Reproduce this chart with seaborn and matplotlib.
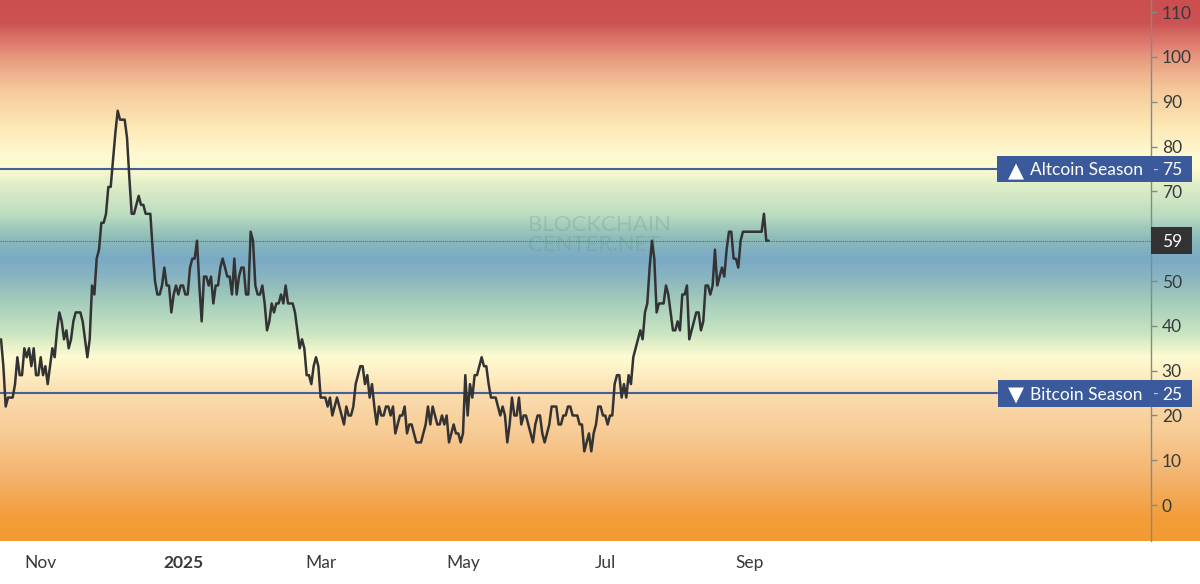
import pandas as pd
import numpy as np
import matplotlib
matplotlib.use('Agg')
import matplotlib.pyplot as plt
import seaborn as sns
from matplotlib.colors import LinearSegmentedColormap
from matplotlib.patches import Rectangle
from matplotlib.transforms import blended_transform_factory

# Daily index values
first_day = '2024-10-15'
index_values = [
    37, 31, 22, 24, 24, 24, 27, 33, 29, 29,
    35, 33, 35, 31, 35, 29, 29, 33, 29, 31,
    27, 31, 35, 33, 39, 43, 41, 37, 39, 35,
    37, 41, 43, 43, 43, 41, 37, 33, 37, 49,
    47, 55, 57, 63, 63, 65, 71, 71, 77, 83,
    88, 86, 86, 86, 82, 73, 65, 65, 67, 69,
    67, 67, 65, 65, 65, 57, 50, 47, 47, 49,
    53, 49, 49, 43, 47, 49, 47, 49, 49, 47,
    47, 53, 55, 55, 59, 49, 41, 51, 51, 49,
    51, 45, 49, 49, 53, 55, 53, 51, 51, 47,
    55, 47, 51, 53, 53, 47, 47, 61, 59, 49,
    47, 47, 49, 45, 39, 41, 45, 43, 45, 45,
    47, 45, 49, 45, 45, 45, 43, 39, 35, 37,
    35, 29, 29, 27, 31, 33, 31, 24, 24, 24,
    22, 24, 20, 22, 24, 22, 20, 18, 22, 20,
    20, 22, 27, 29, 31, 31, 27, 29, 24, 27,
    22, 18, 22, 20, 20, 22, 22, 20, 22, 16,
    18, 20, 20, 22, 16, 18, 18, 16, 14, 14,
    14, 16, 18, 22, 18, 22, 20, 18, 18, 20,
    18, 20, 14, 16, 18, 16, 16, 14, 16, 29,
    20, 27, 24, 29, 29, 31, 33, 31, 31, 27,
    24, 24, 24, 22, 20, 22, 20, 14, 18, 24,
    20, 20, 24, 18, 20, 20, 18, 16, 14, 18,
    20, 20, 16, 14, 16, 18, 22, 22, 22, 18,
    18, 20, 20, 22, 22, 20, 20, 20, 18, 18,
    12, 14, 16, 12, 16, 18, 22, 22, 20, 20,
    18, 20, 20, 27, 29, 29, 24, 27, 24, 29,
    27, 33, 35, 37, 39, 37, 43, 45, 53, 59,
    55, 43, 45, 45, 45, 49, 47, 43, 39, 39,
    41, 39, 47, 47, 49, 37, 39, 41, 43, 43,
    39, 41, 49, 49, 47, 49, 57, 49, 51, 53,
    51, 57, 61, 61, 55, 55, 53, 59, 61, 61,
    61, 61, 61, 61, 61, 61, 61, 65, 59, 59,
]
current_value = 59
altcoin_level = 75
bitcoin_level = 25
x_tick_dates = ['2024-11-01', '2025-01-01', '2025-03-01', '2025-05-01', '2025-07-01', '2025-09-01']
x_tick_labels = ['Nov', '2025', 'Mar', 'May', 'Jul', 'Sep']
# 60 sits behind the current value label in the reference
y_ticks = [0, 10, 20, 30, 40, 50, 70, 80, 90, 100, 110]

# Background colour stops (index value, colour)
y_low, y_high = -8.0, 112.7
gradient_values = [-8, -3, 5, 15, 25, 28, 33, 38, 45, 50, 55, 60, 65, 72, 75, 78, 85, 93, 100, 108, 112.7]
gradient_colors = ['#f29b33', '#f29e38', '#f4b068', '#f7c992', '#fbddb0', '#fdebbe', '#fffbd2',
                   '#cce6c2', '#a6cebc', '#8db8be', '#7aa9c6', '#8fbdb8', '#bdddc0', '#e2efc8',
                   '#fdf9d0', '#fff9d2', '#fde7b5', '#f5c99b', '#e89a80', '#cd5253', '#cb4f4f']

sns.set_theme(style='white')
plt.rcParams['font.family'] = ['Lato', 'DejaVu Sans']

df = pd.DataFrame({
    'date': pd.date_range(first_day, periods=len(index_values), freq='D'),
    'value': index_values,
})

fig = plt.figure(figsize=(12, 5.84), dpi=100)
ax = fig.add_axes([0, 43 / 584, 1, 541 / 584])

stops = [(v - y_low) / (y_high - y_low) for v in gradient_values]
cmap = LinearSegmentedColormap.from_list('season', list(zip(stops, gradient_colors)))
ramp = np.linspace(1, 0, 541).reshape(-1, 1)
ax.imshow(ramp, cmap=cmap, vmin=0, vmax=1, aspect='auto', extent=(0, 1, 0, 1),
          transform=ax.transAxes, zorder=0)

sns.lineplot(data=df, x='date', y='value', ax=ax, color='#333333', linewidth=1.8, zorder=4)

# 2.333 px per day, Nov 1 sits at px 40.7
nov_first = pd.Timestamp('2024-11-01')
ax.set_xlim(nov_first - pd.Timedelta(days=17.44), nov_first + pd.Timedelta(days=496.9))
ax.set_ylim(y_low, y_high)
ax.set_xlabel('')
ax.set_ylabel('')

ax.set_xticks(pd.to_datetime(x_tick_dates))
ax.set_xticklabels(x_tick_labels, fontsize=12.5, color='#363a3a')
ax.get_xticklabels()[1].set_fontweight('bold')
ax.tick_params(axis='x', length=0, pad=10)

axis_x = 1150.7 / 1200
ax.spines['left'].set_visible(False)
ax.spines['top'].set_visible(False)
ax.spines['bottom'].set_visible(False)
ax.spines['right'].set_position(('axes', axis_x))
ax.spines['right'].set_color('#7f8c8a')
ax.spines['right'].set_linewidth(1.0)
ax.spines['right'].set_zorder(3)
ax.yaxis.tick_right()
ax.set_yticks(y_ticks)
ax.tick_params(axis='y', length=4, width=1, color='#7f8c8a', labelsize=12.5, labelcolor='#363a3a', pad=4)

trans = blended_transform_factory(ax.transAxes, ax.transData)

# Threshold lines
ax.plot([0, 997 / 1200], [altcoin_level, altcoin_level], transform=trans, color='#43609a', lw=1.5, zorder=3)
ax.plot([0, 997 / 1200], [bitcoin_level, bitcoin_level], transform=trans, color='#43609a', lw=1.5, zorder=3)
ax.plot([0, axis_x], [current_value, current_value], transform=trans, color='#4f6f6c', lw=0.8,
        linestyle=(0, (1, 1)), zorder=3)

# Labels on the axis
box_h = 3.0
for level, left, arrow, name in [(altcoin_level, 997, '▲', 'Altcoin Season'),
                                 (bitcoin_level, 998, '▼', 'Bitcoin Season')]:
    ax.add_patch(Rectangle((left / 1200, level - box_h), (1192 - left) / 1200, 2 * box_h,
                           transform=trans, facecolor='#3b5a9b', edgecolor='none', zorder=5))
    ax.text(1016 / 1200, level, arrow, transform=trans, color='white', fontsize=15,
            ha='center', va='center_baseline', family=['DejaVu Sans'], zorder=6)
    ax.text(1030 / 1200, level, name, transform=trans, color='white', fontsize=12.5,
            ha='left', va='center_baseline', zorder=6)
    ax.text(1153 / 1200, level, '-', transform=trans, color='#c9d3e6', fontsize=11,
            ha='left', va='center_baseline', zorder=6)
    ax.text(1162 / 1200, level, str(level), transform=trans, color='white', fontsize=12.5,
            ha='left', va='center_baseline', zorder=6)

ax.add_patch(Rectangle((1151 / 1200, current_value - box_h), 41 / 1200, 2 * box_h,
                       transform=trans, facecolor='#333333', edgecolor='none', zorder=5))
ax.text(1162 / 1200, current_value, str(current_value), transform=trans, color='white', fontsize=12.5,
        ha='left', va='center_baseline', zorder=6)

# Watermark
ax.text(528 / 1200, 1 - 235 / 541, 'BLOCKCHAIN\nCENTER.NET', transform=ax.transAxes, color='#5f8f86',
        alpha=0.25, fontsize=16, ha='left', va='center', linespacing=0.95, zorder=2)

fig.savefig('out.png', dpi=100)
